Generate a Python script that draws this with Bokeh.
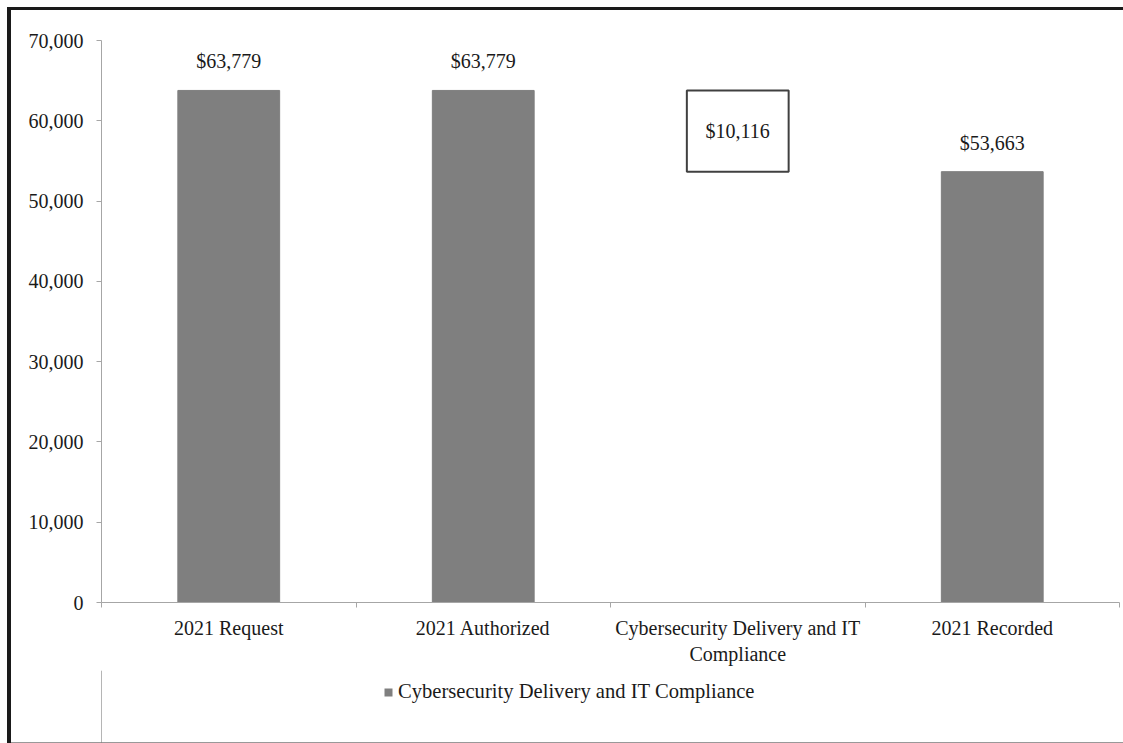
from bokeh.plotting import figure
from bokeh.layouts import column
from bokeh.models import (ColumnDataSource, Range1d, LinearAxis,
                          FixedTicker, NumeralTickFormatter, Legend, LegendItem, LabelSet)
from bokeh.embed import file_html
from bokeh.resources import INLINE

# ---- data ----
categories = ["2021 Request", "2021 Authorized", "Cybersecurity Delivery and IT\nCompliance", "2021 Recorded"]
bar_categories = ["2021 Request", "2021 Authorized", "2021 Recorded"]
bar_values = [63779, 63779, 53663]
change_category = ["Cybersecurity Delivery and IT\nCompliance"]
change_top = [63779]
change_value = [10116]
series_name = "Cybersecurity Delivery and IT Compliance"
y_ticks = [0, 10000, 20000, 30000, 40000, 50000, 60000, 70000]

FONT = "Liberation Serif"
TXT = "#1a1a1a"
AXIS = "#a6a6a6"
BAR = "#7f7f7f"

# category slot centres / edges on a numeric axis
centre = {c: i + 0.5 for i, c in enumerate(categories)}
edges = list(range(len(categories) + 1))

change_bottom = [t - v for t, v in zip(change_top, change_value)]
change_mid = [(t + b) / 2 for t, b in zip(change_top, change_bottom)]

bar_src = ColumnDataSource(dict(x=[centre[c] for c in bar_categories], top=bar_values,
                                text=[f"${v:,}" for v in bar_values]))
chg_src = ColumnDataSource(dict(x=[centre[c] for c in change_category], top=change_top,
                                bottom=change_bottom, mid=change_mid,
                                text=[f"${v:,}" for v in change_value]))

W = 1123
H_MAIN = 670
H_LEG = 73

p = figure(x_range=Range1d(0, len(categories)), y_range=Range1d(0, 70000),
           width=W, height=H_MAIN, output_backend="svg", toolbar_location=None,
           x_axis_location=None,
           min_border_left=101, min_border_right=4, min_border_top=40, min_border_bottom=68,
           border_fill_color=None, background_fill_color="white", outline_line_color=None)
p.styles = {"box-shadow": "inset 7px 7px 0 0 white, inset 11px 10px 0 0 #1a1a1a"}
p.grid.visible = False

bars = p.vbar(x="x", top="top", bottom=0, width=0.4, source=bar_src,
              fill_color=BAR, line_color=BAR, line_width=1)
p.vbar(x="x", top="top", bottom="bottom", width=0.4, source=chg_src,
       fill_color="white", line_color="#404040", line_width=2)

p.add_layout(LabelSet(x="x", y="top", text="text", source=bar_src, y_offset=29,
                      text_align="center", text_baseline="middle",
                      text_font=FONT, text_font_size="20px", text_color=TXT))
p.add_layout(LabelSet(x="x", y="mid", text="text", source=chg_src,
                      text_align="center", text_baseline="middle",
                      text_font=FONT, text_font_size="20px", text_color=TXT))

# y axis
ya = p.yaxis[0]
ya.ticker = FixedTicker(ticks=y_ticks)
ya.formatter = NumeralTickFormatter(format="0,0")
ya.axis_line_color = AXIS
ya.major_tick_line_color = AXIS
ya.major_tick_in = 0
ya.major_tick_out = 5
ya.minor_tick_line_color = None
ya.major_label_standoff = 13
ya.major_label_text_font = FONT
ya.major_label_text_font_size = "20px"
ya.major_label_text_color = TXT

# x axis: tick marks at category boundaries
edge_axis = LinearAxis(ticker=FixedTicker(ticks=edges),
                       major_label_overrides={e: "" for e in edges},
                       major_label_standoff=0, major_label_text_font_size="1px",
                       axis_line_color=AXIS, major_tick_line_color=AXIS,
                       major_tick_in=0, major_tick_out=5, minor_tick_line_color=None)
p.add_layout(edge_axis, "below")

# x axis: category labels at slot centres
cat_axis = LinearAxis(ticker=FixedTicker(ticks=[centre[c] for c in categories]),
                      major_label_overrides={centre[c]: c for c in categories},
                      axis_line_color=None, major_tick_line_color=None, minor_tick_line_color=None,
                      major_label_standoff=3, major_label_text_font=FONT,
                      major_label_text_font_size="20px", major_label_text_color=TXT,
                      major_label_text_line_height=1.2)
p.add_layout(cat_axis, "below")

# legend strip beneath the chart (its frame is aligned with the chart frame)
pl = figure(x_range=Range1d(5, 6), y_range=Range1d(0, 1),
            width=W, height=H_LEG, output_backend="svg", toolbar_location=None,
            x_axis_location=None, y_axis_location=None,
            min_border_left=101, min_border_right=4, min_border_top=0, min_border_bottom=0,
            border_fill_color=None, background_fill_color=None, outline_line_color=None)
pl.styles = {"box-shadow": "inset 7px 0 0 0 white, inset 11px 0 0 0 #1a1a1a, inset 0 -1px 0 0 #999999"}
pl.grid.visible = False
swatch = pl.vbar(x="x", top="top", bottom=0, width=0.4, source=bar_src,
                 fill_color=BAR, line_color=None)

legend = Legend(items=[LegendItem(label=series_name, renderers=[swatch])],
                location=(282, 40), orientation="horizontal",
                border_line_color=None, background_fill_alpha=0,
                label_text_font=FONT, label_text_font_size="20.6px", label_text_color=TXT,
                glyph_width=10, glyph_height=10, label_standoff=5,
                padding=0, margin=0)
pl.add_layout(legend, "center")

layout = column(p, pl, spacing=0)
open("out.html", "w").write(file_html(layout, INLINE))
